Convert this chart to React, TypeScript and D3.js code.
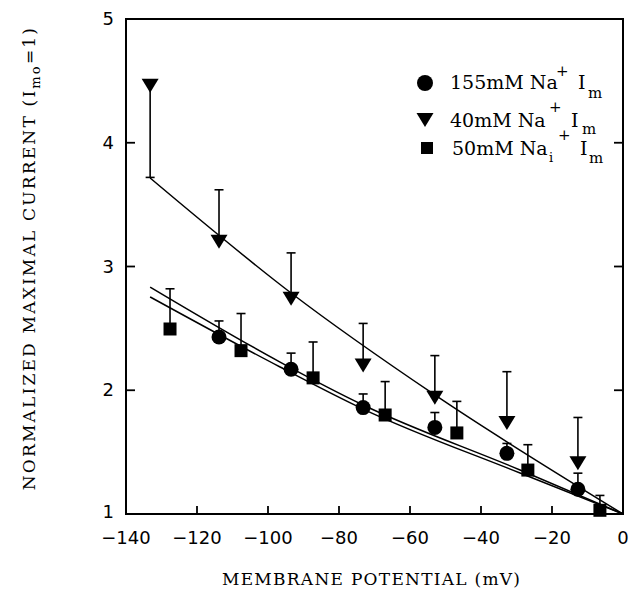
import React from "react";
import * as d3 from "d3";

// ---- data ----
const xTicks = [-140, -120, -100, -80, -60, -40, -20, 0];
const yTicks = [1, 2, 3, 4, 5];

// 40mM Na+ (triangles)
const triV = [-133.2, -113.8, -93.5, -73.2, -53.0, -32.7, -12.7];
const triI = [4.46, 3.2, 2.74, 2.2, 1.94, 1.735, 1.41];
const triErr = [3.72, 3.62, 3.11, 2.54, 2.28, 2.15, 1.78];

// 155mM Na+ (circles)
const circV = [-113.8, -93.5, -73.2, -53.0, -32.7, -12.7];
const circI = [2.43, 2.17, 1.86, 1.7, 1.49, 1.2];
const circErr = [2.56, 2.3, 1.97, 1.82, 1.57, 1.33];

// 50mM Na_i+ (squares)
const sqV = [-127.6, -107.6, -87.3, -67.0, -46.8, -26.8, -6.5];
const sqI = [2.495, 2.32, 2.1, 1.8, 1.655, 1.355, 1.03];
const sqErr = [2.82, 2.62, 2.39, 2.07, 1.91, 1.56, 1.15];

// fitted curves
const fitTriV = [-133.2, -93.5, -53.0, 0];
const fitTriI = [3.715, 2.786, 1.962, 1];
const fitAV = [-133.2, -96.6, -73.2, -29, 0];
const fitAI = [2.834, 2.228, 1.881, 1.356, 1];
const fitBV = [-133.2, -96.6, -73.2, -29, 0];
const fitBI = [2.754, 2.188, 1.848, 1.331, 1];

const W = 639;
const H = 591;
const L = 126, R = 623, T = 19, B = 514;

const x = d3.scaleLinear().domain([-140, 0]).range([L, R]);
const y = d3.scaleLinear().domain([1, 5]).range([B, T]);

const line = d3
  .line<[number, number]>()
  .x((d) => x(d[0]))
  .y((d) => y(d[1]))
  .curve(d3.curveMonotoneX);

const zip = (a: number[], b: number[]) => a.map((v, i) => [v, b[i]] as [number, number]);

const tri = (cx: number, cy: number, w = 17, h = 14) =>
  `M${cx - w / 2},${cy - h / 2}L${cx + w / 2},${cy - h / 2}L${cx},${cy + h / 2}Z`;

const serif = "'DejaVu Serif', 'Liberation Serif', serif";
const sans = "'DejaVu Sans', 'Liberation Sans', sans-serif";

export default function App() {
  const errBar = (vx: number, v0: number, v1: number, key: string) => (
    <g key={key}>
      <line x1={x(vx)} x2={x(vx)} y1={y(v0)} y2={y(v1)} stroke="#000" strokeWidth={1.6} />
      <line x1={x(vx) - 4.5} x2={x(vx) + 4.5} y1={y(v1)} y2={y(v1)} stroke="#000" strokeWidth={1.6} />
    </g>
  );
  return (
    <svg
      width={W}
      height={H}
      viewBox={`0 0 ${W} ${H}`}
      style={{ position: "absolute", left: 0, top: 0, background: "#fff" }}
    >
      <rect x={0} y={0} width={W} height={H} fill="#fff" />
      {/* fitted curves */}
      <path d={line(zip(fitTriV, fitTriI)) || ""} fill="none" stroke="#000" strokeWidth={1.5} />
      <path d={line(zip(fitAV, fitAI)) || ""} fill="none" stroke="#000" strokeWidth={1.5} />
      <path d={line(zip(fitBV, fitBI)) || ""} fill="none" stroke="#000" strokeWidth={1.5} />

      {/* error bars */}
      {triV.map((v, i) => errBar(v, triI[i], triErr[i], "te" + i))}
      {circV.map((v, i) => errBar(v, circI[i], circErr[i], "ce" + i))}
      {sqV.map((v, i) => errBar(v, sqI[i], sqErr[i], "se" + i))}

      {/* markers */}
      {triV.map((v, i) => (
        <path key={"t" + i} d={tri(x(v), y(triI[i]))} fill="#000" />
      ))}
      {circV.map((v, i) => (
        <circle key={"c" + i} cx={x(v)} cy={y(circI[i])} r={7.5} fill="#000" />
      ))}
      {sqV.map((v, i) => (
        <rect key={"s" + i} x={x(v) - 6.5} y={y(sqI[i]) - 6.5} width={13} height={13} fill="#000" />
      ))}

      {/* frame */}
      <rect x={L} y={T} width={R - L} height={B - T} fill="none" stroke="#000" strokeWidth={2} />
      {xTicks.slice(1, -1).map((t) => (
        <line key={"xt" + t} x1={x(t)} x2={x(t)} y1={B} y2={B - 8} stroke="#000" strokeWidth={1.8} />
      ))}
      {yTicks.slice(1, -1).map((t) => (
        <g key={"yt" + t}>
          <line x1={L} x2={L + 9} y1={y(t)} y2={y(t)} stroke="#000" strokeWidth={1.8} />
          <line x1={R} x2={R - 9} y1={y(t)} y2={y(t)} stroke="#000" strokeWidth={1.8} />
        </g>
      ))}

      {/* tick labels */}
      {xTicks.map((t) => (
        <text key={"xl" + t} x={x(t)} y={544} textAnchor="middle" fontFamily={sans} fontSize={18}>
          {t < 0 ? "\u2212" + Math.abs(t) : String(t)}
        </text>
      ))}
      {yTicks.map((t) => (
        <text key={"yl" + t} x={114} y={y(t) + (t === 1 ? 4 : 6)} textAnchor="end" fontFamily={sans} fontSize={18}>
          {t}
        </text>
      ))}

      {/* axis titles */}
      <text x={371} y={585} textAnchor="middle" fontFamily={serif} fontSize={17} textLength={298} lengthAdjust="spacing">
        MEMBRANE POTENTIAL (mV)
      </text>
      <g transform="translate(35,258) rotate(-90)">
        <text x={0} y={0} textAnchor="middle" fontFamily={serif} fontSize={17} letterSpacing={2.2}>
          NORMALIZED MAXIMAL CURRENT (I
          <tspan fontSize={13} dy={5}>mo</tspan>
          <tspan dy={-5}>=1)</tspan>
        </text>
      </g>

      {/* legend */}
      <circle cx={425} cy={83} r={8} fill="#000" />
      <path d={tri(425, 120, 17, 14)} fill="#000" />
      <rect x={421} y={142} width={12} height={12} fill="#000" />

      <text fontFamily={serif} fontSize={19}>
        <tspan x={450} y={89}>155mM Na</tspan>
        <tspan x={556} y={76} fontSize={15}>+</tspan>
        <tspan x={578} y={89}>I</tspan>
        <tspan x={588} y={98} fontSize={15}>m</tspan>
      </text>
      <text fontFamily={serif} fontSize={19}>
        <tspan x={450} y={127}>40mM Na</tspan>
        <tspan x={549} y={112} fontSize={15}>+</tspan>
        <tspan x={571} y={127}>I</tspan>
        <tspan x={582} y={134} fontSize={15}>m</tspan>
      </text>
      <text fontFamily={serif} fontSize={19}>
        <tspan x={452} y={155}>50mM Na</tspan>
        <tspan x={549} y={162} fontSize={13}>i</tspan>
        <tspan x={558} y={140} fontSize={15}>+</tspan>
        <tspan x={580} y={155}>I</tspan>
        <tspan x={589} y={163} fontSize={15}>m</tspan>
      </text>
    </svg>
  );
}
